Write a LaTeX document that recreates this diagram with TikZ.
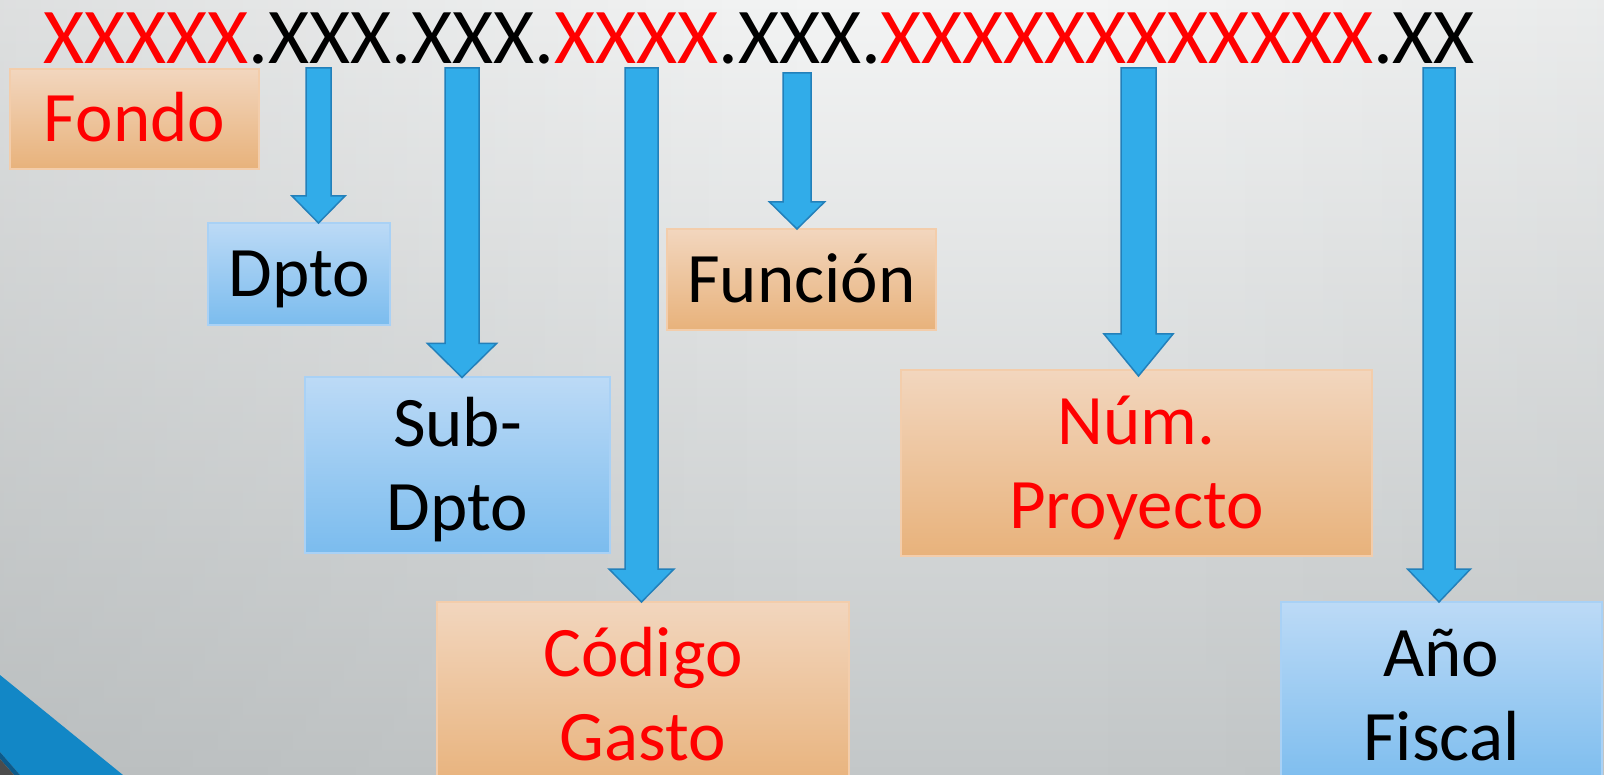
\documentclass[tikz,border=0pt]{standalone}
\usepackage{fontspec}
\setmainfont{Carlito}
\usetikzlibrary{calc,fadings}

\definecolor{bgtop}{HTML}{F3F4F4}
\definecolor{bgmid}{HTML}{E2E5E5}
\definecolor{bgbot}{HTML}{C3C7C8}
\definecolor{bgside}{HTML}{9FA3A4}
\definecolor{orangetop}{HTML}{F2D6BE}
\definecolor{orangebot}{HTML}{E8B27B}
\definecolor{orangeedge}{HTML}{F3CDAB}
\definecolor{bluetop}{HTML}{BCDAF6}
\definecolor{bluebot}{HTML}{7BBCEE}
\definecolor{blueedge}{HTML}{A9D1F5}
\definecolor{arrowfill}{HTML}{31ACE9}
\definecolor{arrowedge}{HTML}{2380BA}
\definecolor{cornerblue}{HTML}{1287C6}
\definecolor{cornerdark}{HTML}{0D5A8A}
\definecolor{codered}{HTML}{FF0000}

\newcommand\labelfont{\fontsize{71}{84}\selectfont}
\newcommand\codefont{\fontsize{79}{90}\selectfont}

% [overlap]{start}{box}{shaft half width}{head half width}{head length}
\newcommand\codearrow[6][1]{%
\draw[blockarrow] let \p1=(#2), \p2=(#2 |- #3.north) in
    ({\x1-#4pt},\y1) -- ({\x1+#4pt},\y1) -- ({\x1+#4pt},{\y2+#6pt})
    -- ({\x1+#5pt},{\y2+#6pt}) -- (\x1,{\y2-#1pt})
    -- ({\x1-#5pt},{\y2+#6pt}) -- ({\x1-#4pt},{\y2+#6pt}) -- cycle;}

\begin{document}
\begin{tikzpicture}[
    x=1pt,
    y=-1pt,
    box/.style={
        line width=2pt,
        inner sep=0pt,
        align=center,
        font=\labelfont,
        text height=46pt,
        text depth=0pt
    },
    twolines/.style={text height=130pt},
    orangebox/.style={box, draw=orangeedge, top color=orangetop, bottom color=orangebot},
    bluebox/.style={box, draw=blueedge, top color=bluetop, bottom color=bluebot},
    blockarrow/.style={draw=arrowedge, fill=arrowfill, line width=1.5pt, line join=miter}
]

% background
\useasboundingbox (0,0) rectangle (1604,775);
\begin{scope}
\clip (0,0) rectangle (1604,775);
\shade[top color=bgtop, middle color=bgmid, bottom color=bgbot] (0,0) rectangle (1604,775);
\fill[bgside, path fading=east, fill opacity=0.25] (0,0) rectangle (800,775);
\fill[bgside, path fading=west, fill opacity=0.1] (1100,0) rectangle (1604,775);
\fill[cornerblue] (0,675) -- (123,775) -- (20,775) -- (0,752) -- cycle;
\fill[cornerdark] (0,752) -- (20,775) -- (14,775) -- (0,759) -- cycle;
\fill[black!70] (0,759) -- (14,775) -- (0,775) -- cycle;
\end{scope}

% code
\node[anchor=base west, inner sep=0pt, font=\codefont] (code) at (43,64)
    {\textcolor{codered}{XXXXX}.XXX.XXX.\textcolor{codered}{XXXX}.XXX.\textcolor{codered}{XXXXXXXXXXXX}.XX};

% blocks
\node[orangebox, text=codered, minimum width=249, minimum height=100] (fondo) at (134.5,119) {Fondo};
\node[bluebox, minimum width=182, minimum height=102] (dpto) at (299,274) {Dpto};
\node[bluebox, twolines, minimum width=305, minimum height=175] (subdpto) at (457.5,465) {Sub-\\Dpto};
\node[orangebox, minimum width=269, minimum height=101] (funcion) at (801.5,279.5) {Función};
\node[orangebox, twolines, text=codered, minimum width=412, minimum height=187] (codigo) at (643,695.5) {Código\\Gasto};
\node[orangebox, twolines, text=codered, minimum width=471, minimum height=186] (proyecto) at (1136.5,463) {Núm.\\Proyecto};
\node[bluebox, twolines, minimum width=321, minimum height=187] (anio) at (1441.5,695.5) {Año\\Fiscal};

% arrows
\coordinate (dptoTop) at (318.5,68);
\coordinate (subdptoTop) at (462,68);
\coordinate (codigoTop) at (641.5,68);
\coordinate (funcionTop) at (797,73);
\coordinate (proyectoTop) at (1138.5,68);
\coordinate (anioTop) at (1439,68);

\codearrow{dptoTop}{dpto}{12.5}{26.5}{26}
\codearrow{subdptoTop}{subdpto}{17}{34.5}{33}
\codearrow{codigoTop}{codigo}{16.5}{32.5}{32}
\codearrow{funcionTop}{funcion}{14}{27.5}{26}
\codearrow[7]{proyectoTop}{proyecto}{17.5}{34.5}{35}
\codearrow{anioTop}{anio}{16}{31.5}{32}

\end{tikzpicture}
\end{document}
